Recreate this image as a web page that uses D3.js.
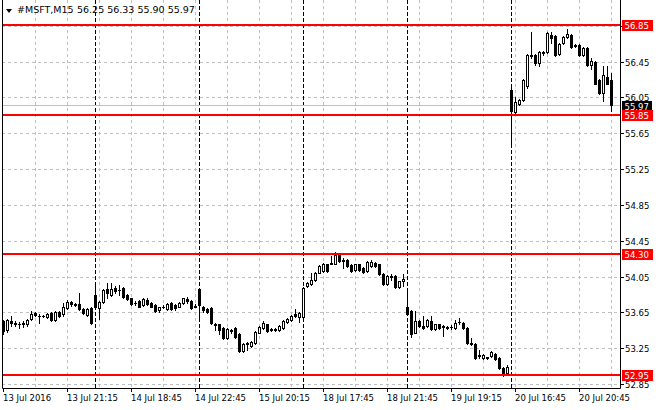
<!DOCTYPE html>
<html><head><meta charset="utf-8">
<script src="https://cdn.jsdelivr.net/npm/d3@7"></script>
<style>
html,body{margin:0;padding:0;background:#fff;}
svg{display:block;}
text{font-family:"DejaVu Sans",sans-serif;font-size:8.5px;fill:#000;}
</style>
</head><body>
<svg id="c" width="660" height="410"></svg>
<script>
const symbol = "#MSFT,M15";
const barOpen = [53.555,53.46,53.555,53.54,53.53,53.52,53.52,53.58,53.65,53.62,53.61,53.60,53.65,53.57,53.66,53.64,53.70,53.77,53.75,53.75,53.69,53.63,53.70,
53.85,53.70,53.77,53.92,53.85,53.93,53.91,53.93,53.85,53.81,53.755,53.78,53.74,53.79,53.76,53.74,53.68,53.71,53.69,53.76,53.74,53.72,53.76,53.80,53.78,53.72,
53.92,53.72,53.69,53.70,53.53,53.52,53.48,53.37,53.46,53.48,53.41,53.22,53.31,53.28,53.31,53.43,53.48,53.52,53.47,53.46,53.46,53.48,53.55,53.57,53.64,53.60,
53.60,53.95,53.97,54.02,54.10,54.12,54.19,54.206,54.20,54.30,54.24,54.24,54.18,54.13,54.19,54.15,54.12,54.17,54.21,54.19,54.08,53.97,54.06,54.06,53.94,54.00,
53.72,53.67,53.43,53.56,53.50,53.50,53.56,53.47,53.52,53.50,53.48,53.49,53.48,53.545,53.54,53.48,53.31,53.30,53.18,53.15,53.155,53.17,53.19,53.15,53.03,52.98,
56.14,55.89,55.98,56.03,56.18,56.52,56.53,56.44,56.56,56.56,56.75,56.74,56.54,56.66,56.73,56.75,56.64,56.64,56.53,56.61,56.42,56.45,56.25,56.10,56.28,56.25];
const barHigh = [53.574,53.58,53.62,53.56,53.55,53.56,53.58,53.67,53.66,53.64,53.63,53.65,53.66,53.67,53.67,53.76,53.79,53.78,53.76,53.87,53.70,53.70,53.71,
53.96,53.78,53.92,53.98,53.98,53.95,53.96,53.94,53.86,53.82,53.78,53.79,53.81,53.82,53.77,53.75,53.72,53.74,53.76,53.77,53.75,53.77,53.82,53.83,53.79,53.75,
53.93,53.73,53.70,53.71,53.54,53.53,53.49,53.48,53.47,53.49,53.42,53.31,53.33,53.34,53.45,53.50,53.56,53.53,53.48,53.48,53.51,53.57,53.59,53.63,53.69,53.66,
53.94,53.99,54.10,54.11,54.18,54.21,54.20,54.28,54.33,54.31,54.26,54.25,54.19,54.20,54.20,54.16,54.23,54.24,54.22,54.20,54.09,54.07,54.08,54.07,54.01,54.08,
53.91,53.68,53.67,53.57,53.61,53.58,53.62,53.53,53.53,53.51,53.50,53.51,53.57,53.59,53.55,53.49,53.37,53.31,53.24,53.19,53.16,53.22,53.20,53.16,53.04,53.07,
56.19,56.06,56.04,56.26,56.54,56.78,56.54,56.57,56.57,56.79,56.78,56.75,56.66,56.74,56.82,56.76,56.65,56.65,56.62,56.62,56.50,56.46,56.26,56.40,56.40,56.33];
const barLow = [53.41,53.44,53.50,53.50,53.48,53.49,53.50,53.57,53.62,53.54,53.60,53.59,53.56,53.56,53.60,53.62,53.69,53.73,53.73,53.68,53.64,53.62,53.53,
53.70,53.58,53.76,53.82,53.84,53.87,53.85,53.82,53.79,53.74,53.74,53.71,53.73,53.74,53.71,53.66,53.66,53.70,53.68,53.68,53.68,53.71,53.75,53.76,53.69,53.71,
53.59,53.66,53.65,53.53,53.46,53.41,53.36,53.36,53.43,53.37,53.21,53.21,53.24,53.27,53.30,53.42,53.47,53.44,53.45,53.45,53.45,53.47,53.54,53.56,53.60,53.55,
53.57,53.94,53.96,54.01,54.09,54.11,54.11,54.19,54.19,54.22,54.15,54.16,54.11,54.12,54.12,54.10,54.11,54.16,54.16,54.07,53.96,53.96,54.02,53.93,53.93,53.95,
53.63,53.38,53.42,53.49,53.47,53.49,53.46,53.46,53.47,53.39,53.47,53.47,53.47,53.52,53.47,53.30,53.29,53.14,53.15,53.14,53.13,53.16,53.12,53.02,52.94,52.97,
55.50,55.87,55.97,56.02,56.16,56.50,56.42,56.41,56.53,56.55,56.66,56.52,56.53,56.65,56.72,56.61,56.62,56.52,56.52,56.41,56.37,56.20,56.09,56.01,56.20,55.90];
const barClose = [53.444,53.57,53.54,53.53,53.52,53.535,53.57,53.64,53.63,53.61,53.62,53.64,53.57,53.66,53.61,53.72,53.77,53.75,53.74,53.69,53.65,53.69,53.54,
53.72,53.77,53.91,53.87,53.92,53.89,53.90,53.83,53.80,53.75,53.76,53.72,53.80,53.75,53.72,53.67,53.71,53.72,53.75,53.69,53.70,53.76,53.81,53.78,53.70,53.73,
53.74,53.68,53.66,53.54,53.51,53.46,53.37,53.47,53.45,53.38,53.22,53.30,53.30,53.33,53.44,53.49,53.54,53.45,53.46,53.47,53.50,53.56,53.58,53.62,53.62,53.65,
53.93,53.98,54.02,54.10,54.17,54.19,54.12,54.196,54.30,54.23,54.23,54.17,54.12,54.19,54.13,54.11,54.22,54.22,54.17,54.08,53.97,54.06,54.055,53.94,54.00,54.03,
53.64,53.41,53.56,53.50,53.48,53.57,53.47,53.52,53.48,53.49,53.49,53.495,53.54,53.55,53.48,53.31,53.30,53.15,53.17,53.18,53.15,53.21,53.13,53.03,52.98,53.05,
55.90,56.00,56.03,56.25,56.53,56.53,56.44,56.56,56.55,56.77,56.72,56.53,56.65,56.73,56.76,56.62,56.63,56.53,56.61,56.42,56.46,56.21,56.10,56.30,56.21,55.97];

const xTickLabels = ["13 Jul 2016","13 Jul 21:15","14 Jul 18:45","14 Jul 22:45","15 Jul 20:15","18 Jul 17:45","18 Jul 21:45","19 Jul 19:15","20 Jul 16:45","20 Jul 20:45"];
const xTickBars = [0,16,32,48,64,80,96,112,128,144];
const daySeparatorBars = [23,49,75,101,127];
const yTicks = [52.85,53.25,53.65,54.05,54.45,54.85,55.25,55.65,56.05,56.45,56.85];
const levelLines = [56.85,55.85,54.30,52.95];
const bidPrice = 55.97;

const svg = d3.select("#c");
const plotL = 2, plotR = 620, plotB = 388;
const n = barClose.length;
const x = d3.scaleLinear().domain([0, n - 1]).range([3, 3 + 4 * (n - 1)]);
const y = d3.scaleLinear().domain([52.85, 56.45]).range([384.5, 62]);
const row = v => Math.floor(y(v)) + 0.5;

svg.append("rect").attr("width",660).attr("height",410).attr("fill","#fff");

// horizontal grid
svg.append("g").selectAll("line").data(yTicks).join("line")
  .attr("x1",plotL).attr("x2",plotR).attr("y1",row).attr("y2",row)
  .attr("stroke","#c0c0c0").attr("stroke-dasharray","3,3");
// vertical grid
svg.append("g").selectAll("line").data(d3.range(8, n, 8)).join("line")
  .attr("x1",d=>x(d)+0.5).attr("x2",d=>x(d)+0.5).attr("y1",0).attr("y2",plotB)
  .attr("stroke","#c0c0c0").attr("stroke-dasharray","3,3");
// day separators
svg.append("g").selectAll("line").data(daySeparatorBars).join("line")
  .attr("x1",d=>x(d)+0.5).attr("x2",d=>x(d)+0.5).attr("y1",0).attr("y2",plotB)
  .attr("stroke","#000").attr("stroke-dasharray","4,2");
// bid line
svg.append("line").attr("x1",plotL).attr("x2",plotR).attr("y1",row(bidPrice)).attr("y2",row(bidPrice))
  .attr("stroke","#c0c0c0");

// candles
const bars = d3.range(n).map(i => ({i, o:barOpen[i], h:barHigh[i], l:barLow[i], c:barClose[i]}));
const g = svg.append("g");
const cg = g.selectAll("g").data(bars).join("g");
cg.append("line")
  .attr("x1",d=>x(d.i)+0.5).attr("x2",d=>x(d.i)+0.5)
  .attr("y1",d=>Math.round(y(d.h))).attr("y2",d=>Math.round(y(d.l))+1)
  .attr("stroke","#000");
cg.each(function(d){
  const sel = d3.select(this);
  const top = Math.round(y(Math.max(d.o,d.c)));
  const bot = Math.round(y(Math.min(d.o,d.c)));
  if (d.c < d.o) {
    sel.append("rect").attr("x",x(d.i)-1).attr("y",top).attr("width",3).attr("height",Math.max(1,bot-top+1)).attr("fill","#000");
  } else if (bot - top < 1) {
    sel.append("rect").attr("x",x(d.i)-1).attr("y",top).attr("width",3).attr("height",1).attr("fill","#000");
  } else {
    sel.append("rect").attr("x",x(d.i)-0.5).attr("y",top+0.5).attr("width",2).attr("height",bot-top)
      .attr("fill","#fff").attr("stroke","#000");
  }
});

// level lines
svg.append("g").selectAll("rect").data(levelLines).join("rect")
  .attr("x",plotL+1).attr("width",plotR-plotL-1).attr("y",d=>Math.round(y(d))-2).attr("height",2)
  .attr("fill","#ff0000");

// frame
svg.append("path").attr("d",`M${plotL+0.5},0V${plotB+0.5}H${plotR+0.5}V0`)
  .attr("fill","none").attr("stroke","#000");

// y ticks and labels
const ya = svg.append("g");
ya.selectAll("line").data(yTicks).join("line")
  .attr("x1",plotR).attr("x2",plotR+4).attr("y1",row).attr("y2",row).attr("stroke","#000");
ya.selectAll("text").data(yTicks).join("text")
  .attr("x",625).attr("y",d=>row(d)+3.5).text(d=>d.toFixed(2));

// bid label
const bidC = Math.round(y(bidPrice));
svg.append("rect").attr("x",622).attr("y",bidC-4).attr("width",30).attr("height",10).attr("fill","#000");
svg.append("text").attr("x",624.5).attr("y",bidC+4.5).style("fill","#fff").text(bidPrice.toFixed(2));

// level labels
const lg = svg.append("g");
levelLines.forEach(v => {
  const c = Math.round(y(v)) - 1;
  lg.append("rect").attr("x",622).attr("y",c-5).attr("width",31).attr("height",11).attr("fill","#ff0000");
  lg.append("text").attr("x",624.5).attr("y",c+3.5).style("fill","#fff").text(v.toFixed(2));
});

// x ticks and labels
const xa = svg.append("g");
xa.selectAll("line").data(xTickBars).join("line")
  .attr("x1",d=>x(d)+0.5).attr("x2",d=>x(d)+0.5).attr("y1",plotB).attr("y2",plotB+4).attr("stroke","#000");
xa.selectAll("text").data(xTickBars).join("text")
  .attr("x",d=>x(d)).attr("y",401).text((d,k)=>xTickLabels[k]);

// title
svg.append("path").attr("d","M6,9H12L9,13Z").attr("fill","#000");
svg.append("text").attr("x",17).attr("y",13).style("font-size","9.5px").text(symbol);
const last = n - 1;
svg.append("text").attr("x",77).attr("y",13).style("font-size","9.5px")
  .text([barOpen[last],barHigh[last],barLow[last],barClose[last]].map(v=>v.toFixed(2)).join(" "));
</script>
</body></html>
